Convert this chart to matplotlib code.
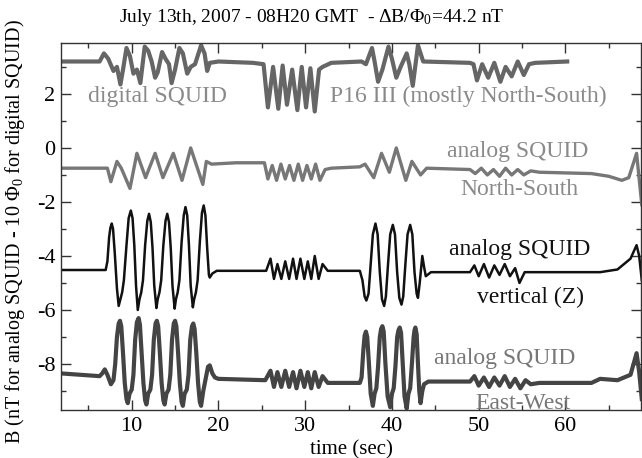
import numpy as np
import matplotlib
matplotlib.use("Agg")
import matplotlib.pyplot as plt
from matplotlib.ticker import MultipleLocator

plt.rcParams['font.family'] = ['Liberation Serif', 'DejaVu Serif']
plt.rcParams['mathtext.fontset'] = 'custom'
plt.rcParams['mathtext.rm'] = 'Liberation Serif'
plt.rcParams['mathtext.it'] = 'Liberation Serif:italic'
plt.rcParams['axes.unicode_minus'] = False

# digital SQUID, P16 III (in units of 10 Phi_0 offset)
t_dig = [1.9, 6.3, 6.8, 7.3, 7.9, 8.3, 8.7, 9.0, 9.4, 9.8, 10.2, 10.6, 11.0, 11.5, 11.9,
         12.3, 12.7, 13.0, 13.5, 13.9, 14.3, 14.6, 15.0, 15.5, 15.9, 16.4, 16.8, 17.3, 18.0,
         18.4, 18.7, 19.0, 20.0, 24.0, 25.2,
         25.7, 26.3, 26.9, 27.4, 27.9, 28.5, 29.1, 29.6, 30.1, 30.6, 31.1, 31.6,
         32.0, 33.0, 36.5, 37.0, 37.7, 38.0, 38.4, 38.9, 39.6, 40.0, 40.5, 41.0, 41.7, 42.0,
         42.4, 43.0, 43.6, 49.0,
         49.4, 49.8, 50.4, 51.1, 51.8, 52.5, 53.1, 53.8, 54.5, 55.2, 55.8, 56.5, 60.2]
v_dig = [3.2, 3.2, 3.5, 3.3, 2.85, 3.0, 2.35, 2.9, 3.7, 3.4, 2.75, 2.9, 2.4, 3.75, 3.6,
         3.2, 2.6, 2.8, 3.55, 3.3, 3.1, 2.4, 2.9, 3.7, 3.5, 2.75, 3.0, 3.1, 3.8,
         3.5, 2.85, 3.15, 3.2, 3.15, 3.1,
         1.5, 3.0, 1.45, 3.05, 1.6, 2.9, 1.4, 3.0, 1.5, 2.95, 1.35, 2.9,
         3.0, 3.15, 3.2, 3.1, 3.7, 3.2, 2.45, 2.9, 3.75, 3.3, 2.6, 3.0, 3.5, 3.1,
         2.3, 3.8, 3.2, 3.15,
         3.1, 2.5, 3.1, 2.6, 3.15, 2.45, 3.0, 2.65, 3.2, 2.7, 3.1, 3.15, 3.2]

# analog SQUID, North-South
t_ns = [1.9, 7.2, 7.6, 8.3, 8.8, 9.8, 10.6, 11.6, 12.7, 13.6, 14.8, 15.8, 16.8, 18.2, 18.6,
        19.2, 22.0, 25.3,
        25.7, 26.2, 26.7, 27.2, 27.7, 28.2, 28.7, 29.2, 29.7, 30.2, 30.7, 31.2, 31.7, 32.3,
        33.0, 36.3, 36.9, 37.9, 38.8, 39.7, 40.5, 41.6, 42.3, 43.3, 44.0, 49.0,
        49.6, 50.3, 51.0, 51.7, 52.4, 53.1, 53.8, 54.5, 55.2, 56.0, 57.0,
        63.0, 65.0, 66.5, 67.3, 68.2, 68.8]
v_ns = [-0.75, -0.75, -1.25, -0.5, -0.75, -1.5, -0.2, -1.1, -0.2, -1.1, -0.2, -1.2, 0.0, -1.35, -0.5,
        -0.6, -0.55, -0.55,
        -1.15, -0.65, -1.2, -0.6, -1.15, -0.65, -1.2, -0.6, -1.2, -0.65, -1.15, -0.6, -1.2, -0.8,
        -0.75, -0.7, -0.6, -1.1, -0.2, -0.9, 0.0, -1.2, -0.5, -1.0, -0.75, -0.8,
        -0.95, -0.75, -1.0, -0.8, -1.05, -0.75, -1.0, -0.8, -1.0, -0.85, -0.9,
        -0.95, -1.05, -1.2, -1.1, -0.2, -2.1]

# analog SQUID, vertical (Z)
t_z = [1.9, 7.0, 7.2, 7.4, 7.55, 7.7, 7.85, 8.05, 8.3, 8.5, 8.7, 8.9, 9.1, 9.4, 9.65,
       9.9, 10.1, 10.3, 10.5, 10.7, 10.9, 11.1, 11.3, 11.55, 11.8, 12.0, 12.2, 12.4, 12.6,
       12.85, 13.0, 13.2, 13.4, 13.65, 13.9, 14.1, 14.3, 14.5, 14.7, 14.95, 15.1, 15.3, 15.5,
       15.75, 16.0, 16.2, 16.4, 16.6, 16.8, 17.05, 17.2, 17.4, 17.6, 17.85, 18.1, 18.3, 18.5,
       18.7, 18.9, 19.0, 19.3, 19.8, 25.5,
       26.0, 26.4, 26.8, 27.25, 27.7, 28.15, 28.6, 29.0, 29.45, 29.9, 30.3, 30.7, 31.1, 31.55,
       32.0, 32.6, 36.3, 36.6, 36.85, 37.05, 37.3, 37.55, 37.8, 38.1, 38.35, 38.6, 38.85,
       39.1, 39.3, 39.55, 39.8, 40.1, 40.35, 40.6, 40.85, 41.1, 41.3, 41.55, 41.8, 42.1,
       42.35, 42.6, 42.85, 43.0, 43.2, 43.5, 43.7, 43.9, 44.5, 49.0,
       49.5, 50.0, 50.6, 51.2, 51.8, 52.4, 53.0, 53.6, 54.2, 54.7, 55.3, 56.0,
       64.0, 66.0, 67.5, 68.2, 68.5, 68.8]
v_z = [-4.52, -4.52, -4.2, -3.3, -2.95, -2.8, -3.0, -3.9, -5.2, -5.85, -5.6, -5.35, -4.9, -3.6, -2.6,
       -2.32, -2.6, -3.6, -5.1, -6.0, -5.6, -5.35, -4.9, -3.6, -2.7, -2.44, -2.75, -3.7, -5.1,
       -5.93, -5.6, -5.35, -4.9, -3.6, -2.7, -2.44, -2.75, -3.7, -5.1, -5.95, -5.6, -5.35, -4.9,
       -3.5, -2.5, -2.19, -2.5, -3.6, -5.1, -5.9, -5.6, -5.35, -4.9, -3.5, -2.4, -2.13, -2.5,
       -3.7, -4.7, -4.8, -4.65, -4.55, -4.55,
       -4.1, -4.85, -4.3, -4.85, -4.2, -4.85, -4.1, -4.85, -4.1, -4.85, -4.2, -4.85, -4.0, -4.85,
       -4.3, -4.55, -4.55, -4.9, -5.5, -5.65, -5.4, -4.3, -3.2, -2.8, -3.2, -4.6, -5.6,
       -5.85, -5.5, -4.3, -3.2, -2.85, -3.2, -4.6, -5.55, -5.8, -5.5, -4.3, -3.2, -2.85,
       -3.2, -4.6, -5.4, -5.55, -5.0, -4.0, -4.4, -4.75, -4.6, -4.6,
       -4.35, -4.75, -4.3, -4.8, -4.35, -4.7, -4.3, -4.75, -4.45, -5.0, -4.6, -4.6,
       -4.6, -4.5, -4.1, -3.6, -4.0, -4.9]

# analog SQUID, East-West
t_ew = [1.9, 6.3, 6.6, 6.9, 7.2, 7.6, 7.9, 8.1, 8.3, 8.5, 8.65, 8.8, 9.0, 9.2, 9.4, 9.55,
        9.75, 10.0, 10.2, 10.4, 10.6, 10.8, 10.95, 11.15, 11.35, 11.55, 11.7, 11.9, 12.15,
        12.35, 12.55, 12.75, 12.9, 13.05, 13.25, 13.45, 13.65, 13.8, 14.0, 14.25, 14.45,
        14.65, 14.85, 15.0, 15.15, 15.35, 15.55, 15.75, 15.9, 16.1, 16.35, 16.55, 16.75,
        16.95, 17.1, 17.25, 17.45, 17.65, 17.85, 18.0, 18.25, 18.5, 18.8, 19.0, 19.3, 19.6,
        20.0, 25.4,
        26.0, 26.4, 26.8, 27.25, 27.7, 28.15, 28.6, 29.0, 29.45, 29.9, 30.3, 30.7, 31.1, 31.55,
        32.0, 32.6, 36.3, 36.5, 36.7, 36.85, 37.0, 37.15, 37.35, 37.55, 37.8, 38.0, 38.2,
        38.4, 38.6, 38.75, 38.9, 39.05, 39.25, 39.5, 39.8, 40.0, 40.2, 40.4, 40.6, 40.75,
        40.9, 41.05, 41.25, 41.45, 41.7, 41.9, 42.1, 42.3, 42.5, 42.6, 42.7, 42.85, 43.0,
        43.15, 43.3, 43.5, 43.7, 44.2, 49.0,
        49.5, 50.0, 50.6, 51.2, 51.8, 52.4, 53.0, 53.6, 54.2, 54.8, 55.4, 56.0, 57.0,
        63.0, 64.0, 66.0, 67.5, 68.2, 68.5, 68.8]
v_ew = [-8.35, -8.45, -8.35, -8.2, -8.4, -8.75, -8.6, -8.0, -7.0, -6.5, -6.4, -6.6, -7.6, -8.7, -9.3, -9.45,
        -9.1, -8.95, -8.4, -7.1, -6.45, -6.3, -6.55, -7.6, -8.7, -9.35, -9.5, -9.1, -8.95,
        -8.4, -7.1, -6.5, -6.4, -6.6, -7.6, -8.7, -9.35, -9.5, -9.1, -8.95, -8.4,
        -7.1, -6.5, -6.4, -6.6, -7.6, -8.7, -9.4, -9.55, -9.1, -8.95, -8.4, -7.1,
        -6.6, -6.5, -6.7, -7.6, -8.7, -9.4, -9.55, -9.0, -8.6, -8.1, -8.05, -8.35, -8.5,
        -8.55, -8.6,
        -8.25, -8.85, -8.3, -8.85, -8.25, -8.85, -8.3, -8.9, -8.25, -8.85, -8.3, -8.9, -8.3, -8.85,
        -8.45, -8.7, -8.7, -8.5, -7.5, -6.95, -6.8, -7.0, -8.0, -9.1, -9.55, -9.1, -8.9,
        -8.1, -7.0, -6.7, -6.6, -6.8, -8.0, -9.2, -9.6, -9.1, -8.9, -8.1, -7.0, -6.75,
        -6.65, -6.85, -8.0, -9.2, -9.65, -9.1, -8.9, -8.0, -7.0, -6.75, -6.65, -6.9, -8.0,
        -9.0, -9.45, -9.0, -8.75, -8.65, -8.65,
        -8.45, -8.8, -8.5, -8.85, -8.5, -8.8, -8.45, -8.85, -8.55, -8.9, -8.6, -8.75, -8.7,
        -8.7, -8.55, -8.6, -8.4, -7.6, -8.3, -9.3]

fig = plt.figure(figsize=(6.42, 4.58), dpi=100)
ax = fig.add_axes([0.095, 0.105, 0.904, 0.802])

ax.plot(t_dig, v_dig, color='#666666', lw=3.0, solid_joinstyle='round')
ax.plot(t_ns, v_ns, color='#777777', lw=2.4, solid_joinstyle='round')
ax.plot(t_z, v_z, color='#111111', lw=1.8, solid_joinstyle='round')
ax.plot(t_ew, v_ew, color='#444444', lw=3.0, solid_joinstyle='round')

fs = 17
ax.text(5.0, 1.92, 'digital SQUID', color='#8a8a8a', fontsize=fs, ha='left', va='center')
ax.text(32.9, 1.92, 'P16 III (mostly North-South)', color='#8a8a8a', fontsize=fs, ha='left', va='center')
ax.text(62.6, -0.12, 'analog SQUID', color='#8a8a8a', fontsize=fs, ha='right', va='center')
ax.text(61.5, -1.53, 'North-South', color='#8a8a8a', fontsize=fs, ha='right', va='center')
ax.text(62.9, -3.77, 'analog SQUID', color='#111111', fontsize=fs, ha='right', va='center')
ax.text(62.1, -5.55, 'vertical (Z)', color='#111111', fontsize=fs, ha='right', va='center')
ax.text(61.2, -7.78, 'analog SQUID', color='#777777', fontsize=fs, ha='right', va='center')
ax.text(60.55, -9.45, 'East-West', color='#777777', fontsize=fs, ha='right', va='center')

ax.set_xlim(1.85, 68.75)
ax.set_ylim(-9.7, 3.9)
ax.xaxis.set_major_locator(MultipleLocator(10))
ax.xaxis.set_minor_locator(MultipleLocator(5))
ax.yaxis.set_major_locator(MultipleLocator(2))
ax.yaxis.set_minor_locator(MultipleLocator(1))
ax.tick_params(which='both', direction='in', top=True, right=True, colors='#333333',
               labelsize=16, labelcolor='black')
ax.tick_params(which='major', length=7, width=1)
ax.tick_params(which='minor', length=3.6, width=1)
ax.tick_params(axis='x', pad=5)
ax.tick_params(axis='y', pad=4)
for s in ax.spines.values():
    s.set_color('#333333')
    s.set_linewidth(1.0)

ax.set_xlabel('time (sec)', fontsize=15, labelpad=3)
fig.text(0.485, 0.962, r'July 13th, 2007 - 08H20 GMT  - $\Delta$B/$\Phi_0$=44.2 nT',
         fontsize=14, ha='center', va='center')
fig.text(0.024, 0.495, r'B (nT for analog SQUID - 10 $\Phi_0$ for digital SQUID)',
         fontsize=14.5, rotation=90, ha='center', va='center')

fig.savefig('out.png', dpi=100)
